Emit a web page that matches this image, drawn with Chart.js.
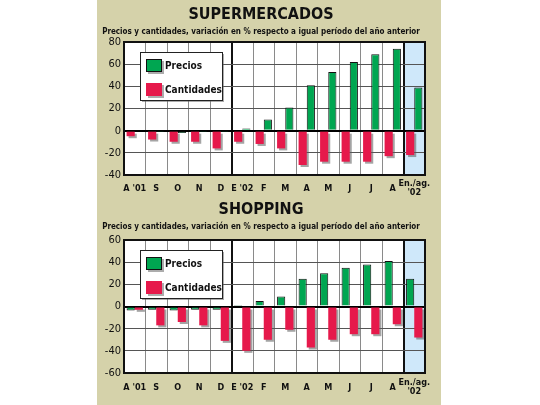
<!DOCTYPE html>
<html>
<head>
<meta charset="utf-8">
<script src="https://cdn.jsdelivr.net/npm/chart.js@4/dist/chart.umd.min.js"></script>
<style>
html, body { margin: 0; padding: 0; background: #fff; }
#panel { position: absolute; left: 97px; top: 0; width: 344px; height: 405px; background: #d5d2aa; }
#box1 { position: absolute; left: 0; top: 0; width: 344px; height: 200px; }
#box2 { position: absolute; left: 0; top: 196px; width: 344px; height: 209px; }
</style>
</head>
<body>
<div id="panel">
  <div id="box1"><canvas id="c1"></canvas></div>
  <div id="box2"><canvas id="c2"></canvas></div>
</div>
<script>
var categories = ["A '01", "S", "O", "N", "D", "E '02", "F", "M", "A", "M", "J", "J", "A", ["En./ag.", "'02"]];

var superPrecios = [-1, -0.5, -2, -0.5, -0.5, 2, 10, 21, 41, 53, 62, 69, 74, 39];
var superCantidades = [-5, -8, -10, -10, -16, -10, -12, -16, -31, -28, -28, -28, -23, -22];
var superTicks = { min: -40, max: 80, step: 20 };

var shopPrecios = [-3.5, -3, -3.5, -3, -3, 0.4, 5, 9, 25, 30, 35, 38, 41, 25];
var shopCantidades = [-3, -17, -14, -17, -31, -40, -30, -21, -37, -30, -25, -25, -16, -28];
var shopTicks = { min: -60, max: 60, step: 20 };

var subtitleText = "Precios y cantidades, variación en % respecto a igual período del año anterior";

var FONT = "'Liberation Sans Narrow', 'DejaVu Sans Condensed', 'Liberation Sans', sans-serif";
var GREEN = "#00a651";
var RED = "#e6194b";
var BAND = "#cfe8fa";

// white plot area + blue band behind last category
var plotBg = {
  id: 'plotBg',
  beforeDraw: function(chart) {
    var ctx = chart.ctx, a = chart.chartArea, xs = chart.scales.x;
    var n = chart.data.labels.length;
    var w = xs.width / n;
    var cx = xs.getPixelForValue(n - 1);
    ctx.save();
    ctx.fillStyle = '#fff';
    ctx.fillRect(a.left, a.top, a.width, a.height);
    ctx.fillStyle = BAND;
    ctx.fillRect(cx - w / 2, a.top, w, a.height);
    ctx.restore();
  }
};

var barShadow = {
  id: 'barShadow',
  beforeDatasetDraw: function(chart, args) {
    if (chart.data.datasets[args.index].shadow) {
      var ctx = chart.ctx;
      ctx.save();
      ctx.shadowColor = 'rgba(90,90,90,0.55)';
      ctx.shadowOffsetX = 2;
      ctx.shadowOffsetY = 2;
      ctx.shadowBlur = 0;
    }
  },
  afterDatasetDraw: function(chart, args) {
    if (chart.data.datasets[args.index].shadow) chart.ctx.restore();
  }
};

var legendBox = {
  id: 'legendBox',
  afterDatasetsDraw: function(chart) {
    var ctx = chart.ctx, a = chart.chartArea;
    var x = a.left + 16, y = a.top + 10, w = 82, h = 48;
    ctx.save();
    ctx.shadowColor = 'rgba(90,90,90,0.5)';
    ctx.shadowOffsetX = 2;
    ctx.shadowOffsetY = 2;
    ctx.fillStyle = '#fff';
    ctx.fillRect(x, y, w, h);
    ctx.shadowColor = 'transparent';
    ctx.strokeStyle = '#222';
    ctx.lineWidth = 1;
    ctx.strokeRect(x + 0.5, y + 0.5, w, h);
    var order = ['Precios', 'Cantidades'];
    ctx.font = 'bold 10px ' + FONT;
    ctx.textBaseline = 'middle';
    order.forEach(function(lbl, i) {
      var ds = chart.data.datasets.filter(function(d) { return d.label === lbl; })[0];
      var sy = y + 7 + i * 24;
      ctx.save();
      ctx.shadowColor = 'rgba(90,90,90,0.5)';
      ctx.shadowOffsetX = 2;
      ctx.shadowOffsetY = 2;
      ctx.fillStyle = ds.backgroundColor;
      ctx.fillRect(x + 6, sy, 16, 13);
      ctx.restore();
      if (ds.borderWidth) {
        ctx.strokeStyle = '#111';
        ctx.strokeRect(x + 6.5, sy + 0.5, 15, 12);
      }
      ctx.fillStyle = '#111';
      ctx.fillText(lbl, x + 25, sy + 7);
    });
    ctx.restore();
  }
};

var frame = {
  id: 'frame',
  afterDraw: function(chart) {
    var ctx = chart.ctx, a = chart.chartArea;
    ctx.save();
    ctx.strokeStyle = '#111';
    ctx.lineWidth = 2;
    ctx.strokeRect(a.left, a.top, a.width, a.height);
    ctx.restore();
  }
};

function makeChart(id, title, precios, cantidades, ticks, greenFirst, titleTop, subBottom, xHeight, labelPad) {
  var dsP = { label: 'Precios', data: precios, backgroundColor: GREEN, borderColor: '#111', borderWidth: 1 };
  var dsC = { label: 'Cantidades', data: cantidades, backgroundColor: RED, borderWidth: 0, shadow: true };
  var sets = greenFirst ? [dsP, dsC] : [dsC, dsP];

  return new Chart(document.getElementById(id), {
    type: 'bar',
    data: { labels: categories, datasets: sets },
    plugins: [plotBg, barShadow, legendBox, frame],
    options: {
      responsive: true,
      maintainAspectRatio: false,
      animation: false,
      layout: { padding: { left: 0, right: 16, top: 0, bottom: 0 } },
      datasets: { bar: { categoryPercentage: 0.76, barPercentage: 1.0 } },
      plugins: {
        legend: { display: false },
        tooltip: { enabled: false },
        title: {
          display: true, text: title, color: '#111',
          font: { family: FONT, size: 16, weight: 'bold', lineHeight: 1 },
          padding: { top: titleTop, bottom: 5 }
        },
        subtitle: {
          display: true, text: subtitleText, color: '#111',
          font: { family: FONT, size: 8, weight: 'bold', lineHeight: 1 },
          padding: { top: 0, bottom: subBottom }
        }
      },
      scales: {
        x: {
          afterFit: function(s) { s.height = xHeight; },
          grid: {
            offset: true,
            drawTicks: false,
            color: function(c) { return (c.index === 5 || c.index === 13) ? '#111' : '#8a8a8a'; },
            lineWidth: function(c) { return (c.index === 5 || c.index === 13) ? 2 : 1; }
          },
          border: { display: false },
          ticks: {
            color: '#111', padding: labelPad, crossAlign: 'center',
            autoSkip: false, maxRotation: 0, minRotation: 0,
            font: { family: FONT, size: 9, weight: 'bold', lineHeight: 1 }
          }
        },
        y: {
          min: ticks.min, max: ticks.max,
          afterFit: function(s) { s.width = 27; },
          grid: {
            drawTicks: false,
            color: function(c) { return c.tick && c.tick.value === 0 ? '#000' : '#555'; },
            lineWidth: function(c) { return c.tick && c.tick.value === 0 ? 2 : 1; }
          },
          border: { display: false },
          ticks: {
            stepSize: ticks.step, color: '#111', padding: 3,
            font: { family: FONT, size: 11, lineHeight: 1 }
          }
        }
      }
    }
  });
}

makeChart('c1', 'SUPERMERCADOS', superPrecios, superCantidades, superTicks, false, 7, 6, 25, 9);
makeChart('c2', 'SHOPPING', shopPrecios, shopCantidades, shopTicks, true, 6, 9, 32, 10);
</script>
</body>
</html>
